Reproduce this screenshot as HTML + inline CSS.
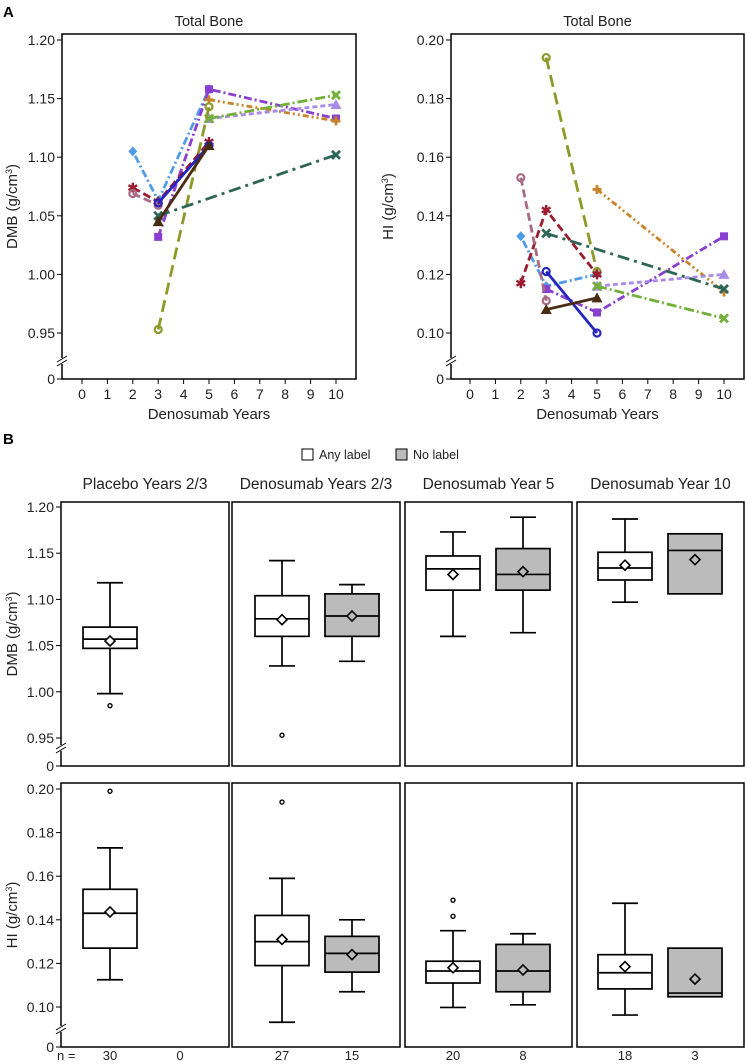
<!DOCTYPE html>
<html><head><meta charset="utf-8"><style>
html,body{margin:0;padding:0;background:#fff;}
svg{display:block;font-family:"Liberation Sans",Arial,sans-serif;}
</style></head><body>
<svg id="fig" width="747" height="1064" viewBox="0 0 747 1064" xmlns="http://www.w3.org/2000/svg"></svg>
<script>
// ---------- Panel A data ----------
const years = [0,1,2,3,4,5,6,7,8,9,10];
const dmbTicks = [1.20,1.15,1.10,1.05,1.00,0.95];
const hiTicks = [0.20,0.18,0.16,0.14,0.12,0.10];
const seriesNames = ["light-blue","purple","orange","lavender","green","olive","teal","red","mauve","navy","brown"];
const seriesColors = ["#4f9be8","#8a3fd0","#c9842a","#a98be8","#73b03a","#8c9a2a","#2e6655","#9b1c2e","#a86b84","#2424c0","#4a2a10"];
const seriesDash = ["2,3,8,3","8,3,2,3","6,3,2,3,2,3","5,3","10,3,2,3","12,6","12,5,3,5","8,4","8,4","","" ];
const seriesMarker = ["diamond","square","plus","triangle","x","circle","x","star","circle","circle","triangle"];
const dmbYears = [[2,3,5],[3,5,10],[5,10],[5,10],[5,10],[3,5],[3,10],[2,3,5],[2,3],[3,5],[3,5]];
const dmbValues = [[1.105,1.063,1.158],[1.032,1.158,1.133],[1.149,1.131],[1.133,1.145],[1.133,1.153],[0.953,1.143],[1.050,1.102],[1.074,1.062,1.113],[1.069,1.059],[1.061,1.110],[1.045,1.110]];
const hiYears = [[2,3,5],[3,5,10],[5,10],[5,10],[5,10],[3,5],[3,10],[2,3,5],[2,3],[3,5],[3,5]];
const hiValues = [[0.133,0.116,0.120],[0.115,0.107,0.133],[0.149,0.114],[0.116,0.120],[0.116,0.105],[0.194,0.121],[0.134,0.115],[0.117,0.142,0.120],[0.153,0.111],[0.121,0.100],[0.108,0.112]];

// ---------- Panel B data ----------
const groups = ["Placebo Years 2/3","Denosumab Years 2/3","Denosumab Year 5","Denosumab Year 10"];
const nCounts = [30,0,27,15,20,8,18,3];
// each box: [whiskerLow, q1, median, q3, whiskerHigh, mean] ; null = absent
const dmbBoxes = [
 [0.998,1.047,1.057,1.070,1.118,1.055], null,
 [1.028,1.060,1.079,1.104,1.142,1.078], [1.033,1.060,1.082,1.106,1.116,1.082],
 [1.060,1.110,1.133,1.147,1.173,1.127], [1.064,1.110,1.127,1.155,1.189,1.130],
 [1.097,1.121,1.134,1.151,1.187,1.137], [null,1.106,1.153,1.171,null,1.143]
];
const dmbOutliers = [[0.985],[],[0.953],[],[],[],[],[]];
const hiBoxes = [
 [0.1125,0.127,0.143,0.154,0.173,0.1436], null,
 [0.093,0.119,0.130,0.142,0.159,0.131], [0.107,0.116,0.1246,0.1324,0.140,0.124],
 [0.0998,0.111,0.1165,0.121,0.135,0.118], [0.101,0.107,0.1165,0.1287,0.1336,0.117],
 [0.0963,0.1083,0.1157,0.124,0.1476,0.1185], [null,0.1047,0.1064,0.127,null,0.1128]
];
const hiOutliers = [[0.199],[],[0.194],[],[0.149,0.1416],[],[],[]];

const NS="http://www.w3.org/2000/svg";
const svg=document.getElementById('fig');
function el(tag,attrs,parent,text){const e=document.createElementNS(NS,tag);for(const k in attrs)e.setAttribute(k,attrs[k]);if(text!==undefined)e.textContent=text;(parent||svg).appendChild(e);return e;}

let t;
t=el('text',{x:3,y:17,'font-size':15,'font-weight':'bold'},svg,'A');


t=el('text',{x:3,y:444,'font-size':15,'font-weight':'bold'},svg,'B');



function axisBreak(x,y,g){
  el('rect',{x:x-4,y:y-3,width:8,height:6,fill:'#fff'},g);
  el('line',{x1:x-5,y1:y+1,x2:x+5,y2:y-5,stroke:'#000','stroke-width':1},g);
  el('line',{x1:x-5,y1:y+5,x2:x+5,y2:y-1,stroke:'#000','stroke-width':1},g);
}

function marker(g,type,x,y,c){
  const s=4;
  if(type==='circle') el('circle',{cx:x,cy:y,r:3.5,fill:'none',stroke:c,'stroke-width':2.2},g);
  else if(type==='square') el('rect',{x:x-s,y:y-s,width:2*s,height:2*s,fill:c},g);
  else if(type==='diamond') el('polygon',{points:`${x},${y-5} ${x+4.5},${y} ${x},${y+5} ${x-4.5},${y}`,fill:c},g);
  else if(type==='triangle') el('polygon',{points:`${x},${y-5.5} ${x+5.5},${y+4.5} ${x-5.5},${y+4.5}`,fill:c},g);
  else if(type==='x'){el('line',{x1:x-4,y1:y-4,x2:x+4,y2:y+4,stroke:c,'stroke-width':2.8},g);el('line',{x1:x-4,y1:y+4,x2:x+4,y2:y-4,stroke:c,'stroke-width':2.8},g);}
  else if(type==='plus'){el('line',{x1:x-4.5,y1:y,x2:x+4.5,y2:y,stroke:c,'stroke-width':2.8},g);el('line',{x1:x,y1:y-4.5,x2:x,y2:y+4.5,stroke:c,'stroke-width':2.8},g);}
  else if(type==='star'){for(let a=0;a<3;a++){const an=a*Math.PI/3+Math.PI/2;el('line',{x1:x-5*Math.cos(an),y1:y-5*Math.sin(an),x2:x+5*Math.cos(an),y2:y+5*Math.sin(an),stroke:c,'stroke-width':2.4},g);}}
}

function lineChart(opts){
  const {left,right,top,bottom,x0,x10,vTop,vBot,yTop,yBot,ticks,title,ytitle,ytx,yrs,vals,name}=opts;
  const g=el('g',{});
  
  
  const X=v=>x0+(x10-x0)*v/10;
  const Y=v=>yTop+(vTop-v)/(vTop-vBot)*(yBot-yTop);
  el('rect',{x:left,y:top,width:right-left,height:bottom-top,fill:'none',stroke:'#000','stroke-width':1.5},g);
  ticks.forEach(v=>{const y=Y(v);el('line',{x1:left-5,y1:y,x2:left,y2:y,stroke:'#000'},g);
    const tt=el('text',{x:left-7,y:y+5,'font-size':14,'text-anchor':'end',fill:'#222'},g,v.toFixed(2));
    
    });
  el('line',{x1:left-5,y1:bottom,x2:left,y2:bottom,stroke:'#000'},g);
  el('text',{x:left-7,y:bottom+5,'font-size':14,'text-anchor':'end',fill:'#222'},g,'0');
  axisBreak(left,bottom-18,g);
  years.forEach(v=>{const x=X(v);el('line',{x1:x,y1:bottom,x2:x,y2:bottom+5,stroke:'#000'},g);
    const tt=el('text',{x:x,y:bottom+20,'font-size':14,'text-anchor':'middle',fill:'#222'},g,String(v));
    
    });
  const ti=el('text',{x:(left+right)/2,y:top-8,'font-size':14.5,'text-anchor':'middle',fill:'#222'},g,title);
  
  
  const xt=el('text',{x:(left+right)/2,y:bottom+40,'font-size':15,'text-anchor':'middle',fill:'#222'},g,'Denosumab Years');
  
  
  const cy=(top+bottom)/2;
  const yt=el('text',{x:ytx,y:cy,'font-size':15,'text-anchor':'middle',fill:'#222',transform:`rotate(-90 ${ytx} ${cy})`},g);
  
  
  yt.appendChild(document.createTextNode(ytitle+' (g/cm'));
  el('tspan',{'font-size':9,dy:-5},yt,'3');
  el('tspan',{dy:5},yt,')');
  yrs.forEach((ys,i)=>{
    const sg=el('g',{},g);
    
    
    const pts=ys.map((yy,j)=>X(yy)+','+Y(vals[i][j])).join(' ');
    const pl=el('polyline',{points:pts,fill:'none',stroke:seriesColors[i],'stroke-width':2.8},sg);
    if(seriesDash[i]) pl.setAttribute('stroke-dasharray',seriesDash[i]);
    ys.forEach((yy,j)=>marker(sg,seriesMarker[i],X(yy),Y(vals[i][j]),seriesColors[i]));
  });
}

lineChart({left:62,right:356,top:34,bottom:379,x0:82,x10:336,vTop:1.20,vBot:0.95,yTop:40,yBot:333,ticks:dmbTicks,title:'Total Bone',ytitle:'DMB',ytx:17,yrs:dmbYears,vals:dmbValues,name:'dmb-line-chart'});
lineChart({left:451,right:744,top:34,bottom:379,x0:470,x10:724,vTop:0.20,vBot:0.10,yTop:40,yBot:333,ticks:hiTicks,title:'Total Bone',ytitle:'HI',ytx:393,yrs:hiYears,vals:hiValues,name:'hi-line-chart'});

const lg=el('g',{});


el('rect',{x:302,y:449,width:11,height:11,fill:'#fff',stroke:'#000','stroke-width':1},lg);
el('text',{x:319,y:459,'font-size':12.5,fill:'#222'},lg,'Any label');
el('rect',{x:396,y:449,width:11,height:11,fill:'#bbb',stroke:'#000','stroke-width':1},lg);
el('text',{x:413,y:459,'font-size':12.5,fill:'#222'},lg,'No label');

const panelLeft=[61,232,405,577], panelRight=[229,400,572,744];
const boxCenters=[110,180,282,352,453,523,625,695];
function boxRow(opts){
  const {top,bottom,vTop,vBot,yTop,yBot,ticks,boxes,outliers,ytitle,name,showTitles}=opts;
  const g=el('g',{});
  
  
  const Y=v=>yTop+(vTop-v)/(vTop-vBot)*(yBot-yTop);
  panelLeft.forEach((l,p)=>{
    el('rect',{x:l,y:top,width:panelRight[p]-l,height:bottom-top,fill:'none',stroke:'#000','stroke-width':1.5},g);
    if(showTitles){const tt=el('text',{x:(l+panelRight[p])/2,y:top-13,'font-size':15.5,'text-anchor':'middle',fill:'#222'},g,groups[p]);
      
      }
  });
  const left=61;
  ticks.forEach(v=>{const y=Y(v);el('line',{x1:left-5,y1:y,x2:left,y2:y,stroke:'#000'},g);
    const tt=el('text',{x:left-7,y:y+5,'font-size':14,'text-anchor':'end',fill:'#222'},g,v.toFixed(2));
    
    });
  el('line',{x1:left-5,y1:bottom,x2:left,y2:bottom,stroke:'#000'},g);
  el('text',{x:left-7,y:bottom+5,'font-size':14,'text-anchor':'end',fill:'#222'},g,'0');
  axisBreak(left,bottom-18,g);
  const cy=(top+bottom)/2, ytx=17;
  const yt=el('text',{x:ytx,y:cy,'font-size':15,'text-anchor':'middle',fill:'#222',transform:`rotate(-90 ${ytx} ${cy})`},g);
  
  
  yt.appendChild(document.createTextNode(ytitle+' (g/cm'));
  el('tspan',{'font-size':9,dy:-5},yt,'3');
  el('tspan',{dy:5},yt,')');
  boxes.forEach((b,i)=>{
    if(!b) return;
    const cx=boxCenters[i], hw=27, cw=13;
    const bg=el('g',{},g);
    
    
    const fill=i%2===0?'#fff':'#bbb';
    if(b[4]!==null){el('line',{x1:cx,y1:Y(b[4]),x2:cx,y2:Y(b[3]),stroke:'#000','stroke-width':1.7},bg);el('line',{x1:cx-cw,y1:Y(b[4]),x2:cx+cw,y2:Y(b[4]),stroke:'#000','stroke-width':1.7},bg);}
    if(b[0]!==null){el('line',{x1:cx,y1:Y(b[1]),x2:cx,y2:Y(b[0]),stroke:'#000','stroke-width':1.7},bg);el('line',{x1:cx-cw,y1:Y(b[0]),x2:cx+cw,y2:Y(b[0]),stroke:'#000','stroke-width':1.7},bg);}
    el('rect',{x:cx-hw,y:Y(b[3]),width:2*hw,height:Y(b[1])-Y(b[3]),fill:fill,stroke:'#000','stroke-width':1.7},bg);
    el('line',{x1:cx-hw,y1:Y(b[2]),x2:cx+hw,y2:Y(b[2]),stroke:'#000','stroke-width':1.7},bg);
    const my=Y(b[5]);
    el('polygon',{points:`${cx},${my-5} ${cx+5},${my} ${cx},${my+5} ${cx-5},${my}`,fill:fill,stroke:'#000','stroke-width':1.6},bg);
    outliers[i].forEach(o=>el('circle',{cx:cx,cy:Y(o),r:2,fill:'#fff',stroke:'#000','stroke-width':1.4},bg));
  });
}
boxRow({top:502,bottom:766,vTop:1.20,vBot:0.95,yTop:507,yBot:738,ticks:dmbTicks,boxes:dmbBoxes,outliers:dmbOutliers,ytitle:'DMB',name:'dmb-box-row',showTitles:true});
boxRow({top:783,bottom:1047,vTop:0.20,vBot:0.10,yTop:789,yBot:1007,ticks:hiTicks,boxes:hiBoxes,outliers:hiOutliers,ytitle:'HI',name:'hi-box-row',showTitles:false});

t=el('text',{x:57,y:1060,'font-size':13,fill:'#222'},svg,'n =');


nCounts.forEach((n,i)=>{
  const tt=el('text',{x:boxCenters[i],y:1060,'font-size':13,'text-anchor':'middle',fill:'#222'},svg,String(n));
  
  
});
</script>
</body></html>
